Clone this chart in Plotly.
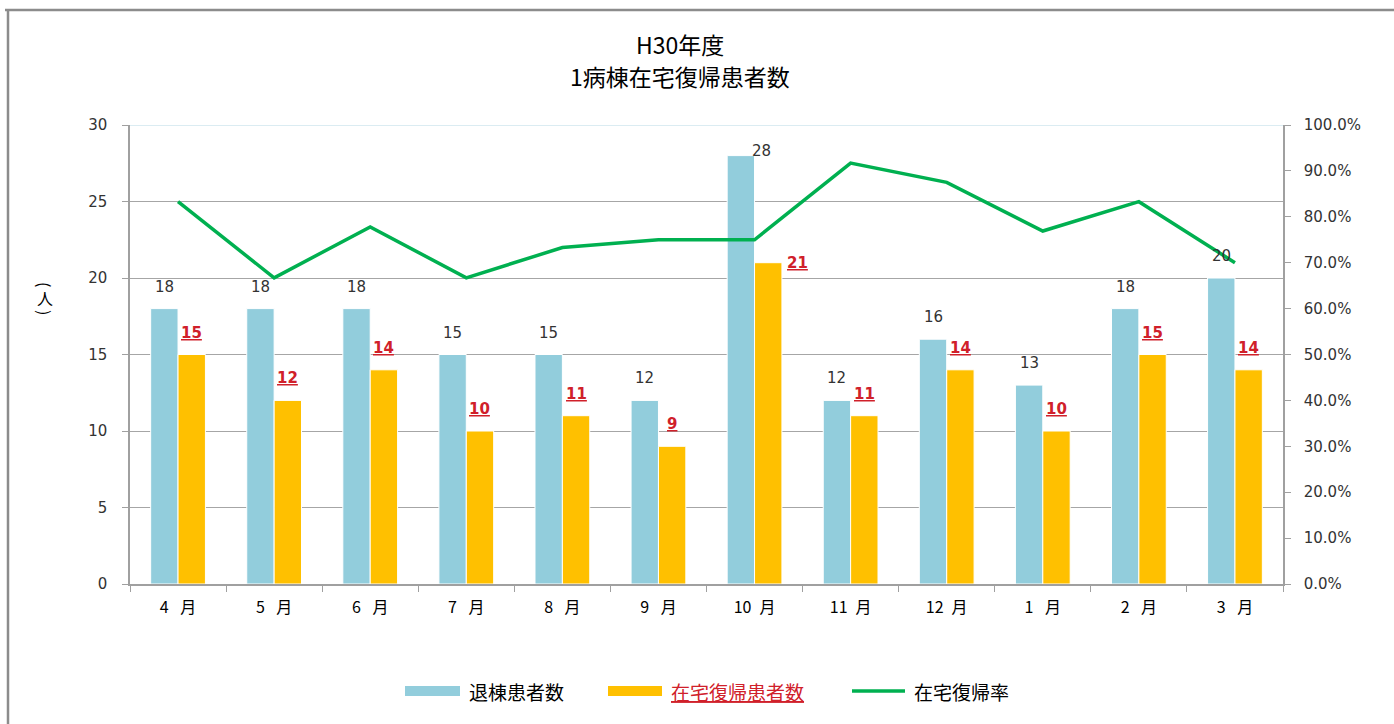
import plotly.graph_objects as go

# Monthly figures for ward 1 (fiscal year H30)
months = ["4\u2002\u00a0月", "5\u2002\u00a0月", "6\u2002\u00a0月", "7\u2002\u00a0月",
          "8\u2002\u00a0月", "9\u2002\u00a0月", "10\u2002月", "11\u2002月",
          "12\u2002月", "1\u2002\u00a0月", "2\u2002\u00a0月", "3\u2002\u00a0月"]
discharged = [18, 18, 18, 15, 15, 12, 28, 12, 16, 13, 18, 20]
home_return = [15, 12, 14, 10, 11, 9, 21, 11, 14, 10, 15, 14]
home_rate = [0.833, 0.667, 0.778, 0.667, 0.733, 0.750,
             0.750, 0.917, 0.875, 0.769, 0.833, 0.700]

left_ticks = [0, 5, 10, 15, 20, 25, 30]
right_ticks = [0, 0.1, 0.2, 0.3, 0.4, 0.5, 0.6, 0.7, 0.8, 0.9, 1.0]
title_lines = ["H30年度", "1病棟在宅復帰患者数"]

BLUE = "#92CDDC"
GOLD = "#FFC000"
GREEN = "#00B050"
RED = "#D0202A"
TEXT = "#333333"
NUM_FONT = "DejaVu Sans, Noto Sans CJK JP, sans-serif"
JP_FONT = "Noto Sans CJK JP, sans-serif"

W, H = 1394, 724
ML, MR, MT, MB = 130, 111, 125, 140
PW, PH = W - ML - MR, H - MT - MB


def px_x(x):
    return (x - ML) / PW


def px_y(y):
    return (H - MB - y) / PH


BARGAP = 0.43
cat_w = PW / len(months)
half = cat_w * (1 - BARGAP) / 4  # offset of each bar centre from the category centre

fig = go.Figure()
fig.add_trace(go.Bar(
    x=months, y=discharged, name="退棟患者数",
    marker=dict(color=BLUE, line=dict(color="white", width=1)),
    showlegend=False,
))
fig.add_trace(go.Bar(
    x=months, y=home_return, name="在宅復帰患者数",
    marker=dict(color=GOLD, line=dict(color="white", width=1)),
    showlegend=False,
))
fig.add_trace(go.Scatter(
    x=months, y=home_rate, name="在宅復帰率", yaxis="y2",
    mode="lines", line=dict(color=GREEN, width=3.5),
    showlegend=False,
))

annotations = []
top_month = discharged.index(max(discharged))
for i, (m, d, h) in enumerate(zip(months, discharged, home_return)):
    if i == top_month:
        # tallest column: labels sit beside the bar tops
        bx, by, gx, gy = -half + 21, 5, half + 29, 0
    else:
        bx, by, gx, gy = -half, 22, half, 22
    annotations.append(dict(
        x=m, y=d, xref="x", yref="y", xshift=bx, yshift=by,
        text=str(d), showarrow=False, yanchor="middle",
        font=dict(family=NUM_FONT, size=15, color=TEXT),
    ))
    annotations.append(dict(
        x=m, y=h, xref="x", yref="y", xshift=gx, yshift=gy,
        text=f"<u>{h}</u>", showarrow=False, yanchor="middle",
        font=dict(family=NUM_FONT, size=15, color=RED, weight="bold"),
    ))

# two-line title
for line_text, ypx in zip(title_lines, [44, 76]):
    annotations.append(dict(
        x=px_x(680), y=px_y(ypx), xref="paper", yref="paper",
        text=line_text, showarrow=False,
        font=dict(family=JP_FONT, size=23, color="black"),
        xanchor="center", yanchor="middle",
    ))

# vertical unit label
for txt, ypx, ang in [("(", 284, 90), ("人", 298, 0), (")", 312, 90)]:
    annotations.append(dict(
        x=px_x(45), y=px_y(ypx), xref="paper", yref="paper",
        text=txt, showarrow=False, textangle=ang,
        font=dict(family=JP_FONT, size=16, color="black"),
        xanchor="center", yanchor="middle",
    ))

# legend entries
shapes = []
legend_items = [
    (405, 460, "rect", BLUE, "退棟患者数", "black"),
    (608, 662, "rect", GOLD, "<u>在宅復帰患者数</u>", RED),
    (852, 905, "line", GREEN, "在宅復帰率", "black"),
]
LEG_Y = 691
for x0, x1, kind, col, label, tcol in legend_items:
    if kind == "rect":
        shapes.append(dict(
            type="rect", xref="paper", yref="paper",
            x0=px_x(x0), x1=px_x(x1), y0=px_y(LEG_Y + 5), y1=px_y(LEG_Y - 5),
            fillcolor=col, line=dict(width=0),
        ))
    else:
        shapes.append(dict(
            type="line", xref="paper", yref="paper",
            x0=px_x(x0), x1=px_x(x1), y0=px_y(LEG_Y), y1=px_y(LEG_Y),
            line=dict(color=col, width=3.5),
        ))
    annotations.append(dict(
        x=px_x(x1 + 7), y=px_y(LEG_Y), xref="paper", yref="paper",
        text=label, showarrow=False, xanchor="left", yanchor="middle",
        font=dict(family=JP_FONT, size=19, color=tcol),
    ))

# top edge of the value area
shapes.append(dict(
    type="line", xref="paper", yref="y", x0=0, x1=1, y0=30, y1=30,
    line=dict(color="#CFE6EE", width=1.5), layer="above",
))

# outer frame (top and left edges)
shapes.append(dict(
    type="line", xref="paper", yref="paper",
    x0=px_x(5), x1=px_x(W + 5), y0=px_y(10), y1=px_y(10),
    line=dict(color="#8C8C8C", width=2.5),
))
shapes.append(dict(
    type="line", xref="paper", yref="paper",
    x0=px_x(8), x1=px_x(8), y0=px_y(10), y1=px_y(H + 5),
    line=dict(color="#8C8C8C", width=2.5),
))

axis_line = "#A0A0A0"
fig.update_layout(
    width=W, height=H,
    margin=dict(l=ML, r=MR, t=MT, b=MB, autoexpand=False),
    paper_bgcolor="white", plot_bgcolor="white",
    barmode="group", bargap=BARGAP, bargroupgap=0,
    showlegend=False,
    annotations=annotations, shapes=shapes,
    xaxis=dict(
        type="category", categoryorder="array", categoryarray=months,
        showline=True, linecolor=axis_line, linewidth=1.5,
        ticks="outside", tickson="boundaries", ticklen=6, tickcolor=axis_line,
        ticklabelstandoff=8, showgrid=False,
        tickfont=dict(family=JP_FONT, size=16, color="black"),
    ),
    yaxis=dict(
        range=[0, 30], tickvals=left_ticks,
        showline=True, linecolor=axis_line, linewidth=1.5,
        ticks="outside", ticklen=6, tickcolor=axis_line,
        ticklabelstandoff=12,
        showgrid=True, gridcolor="#A6A6A6", gridwidth=1, zeroline=False,
        tickfont=dict(family=NUM_FONT, size=15, color=TEXT),
    ),
    yaxis2=dict(
        range=[0, 1], tickvals=right_ticks, tickformat=".1%",
        overlaying="y", side="right",
        showline=True, linecolor=axis_line, linewidth=1.5,
        ticks="outside", ticklen=6, tickcolor=axis_line,
        ticklabelstandoff=10, showgrid=False, zeroline=False,
        tickfont=dict(family=NUM_FONT, size=15, color=TEXT),
    ),
)

fig.write_html("out.html")
